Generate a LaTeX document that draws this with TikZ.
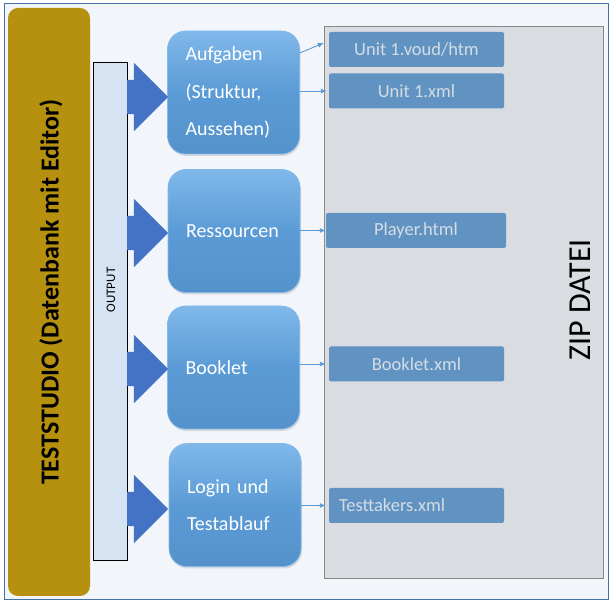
\documentclass[tikz,border=0pt]{standalone}
\usepackage{fontspec}
\setmainfont{Carlito}
\usepackage{xcolor}
\usetikzlibrary{shapes.arrows,arrows.meta,shadows}

\definecolor{rahmenblau}{HTML}{4472A8}
\definecolor{hintergrund}{HTML}{F2F6FB}
\definecolor{goldbraun}{HTML}{B69110}
\definecolor{ausgabeblau}{HTML}{D5E3F3}
\definecolor{pfeilblau}{HTML}{4472C4}
\definecolor{boxblau}{HTML}{5B9BD5}
\definecolor{boxhell}{HTML}{80B8EA}
\definecolor{boxdunkel}{HTML}{5592CC}
\definecolor{dateiblau}{HTML}{6193C2}
\definecolor{dateitext}{HTML}{D4DCE4}
\definecolor{zipgrau}{HTML}{D9DCE1}
\definecolor{ziprand}{HTML}{888888}

\begin{document}
\begin{tikzpicture}[x=1pt,y=-1pt]
          \tikzset{
            Gold/.style = { rectangle, rounded corners=10pt, fill=goldbraun,
              minimum width=82pt, minimum height=588pt, inner sep=0pt },
            Ausgabe/.style = { rectangle, draw=black, line width=0.8pt,
              fill=ausgabeblau, minimum width=34pt, minimum height=498pt,
              inner sep=0pt },
            Pfeil/.style = { single arrow, fill=pfeilblau, anchor=tail,
              minimum height=41pt, inner xsep=0pt, inner ysep=17pt,
              single arrow head extend=17pt, single arrow tip angle=90 },
            Baustein/.style = { rectangle, rounded corners=18pt,
              draw=boxhell, line width=0.6pt,
              top color=boxhell, bottom color=boxdunkel, middle color=boxblau,
              drop shadow={opacity=0.25, shadow xshift=1pt, shadow yshift=-2pt},
              text=white, align=left, text width=96pt, inner xsep=18pt,
              minimum height=123pt, font=\fontsize{20}{37.5}\selectfont },
            Datei/.style = { rectangle, rounded corners=2pt, fill=dateiblau,
              text=dateitext, minimum width=175pt, minimum height=35pt,
              font=\fontsize{18.5}{20}\selectfont },
            Zip/.style = { rectangle, draw=ziprand, line width=0.8pt,
              fill=zipgrau, minimum width=279pt, minimum height=552pt },
            Link/.style = { draw=boxblau, line width=0.9pt,
              -{Latex[length=6pt,width=5pt]} } }

          \useasboundingbox (0,0) rectangle (614,609);
          \draw[draw=rahmenblau, fill=hintergrund, line width=1pt] (4,4) rectangle (608,600);

          % linke Seite
          \node[Gold] (TESTSTUDIO) at (49,302) {};
          \node[rotate=90, font=\fontsize{26}{30}\selectfont\bfseries] (TITEL) at (51,292) {TESTSTUDIO (Datenbank mit Editor)};
          \node[Ausgabe] (OUTPUT) at (110,311) {};
          \node[rotate=90, font=\fontsize{13}{14}\selectfont] (OUTPUTTEXT) at (111,290) {OUTPUT};

          % Zip
          \node[Zip] (ZIP) at (463.5,302) {};
          \node[rotate=90, font=\fontsize{32}{36}\selectfont] (ZIPTEXT) at (580,300) {ZIP DATEI};

          % Bausteine
          \node[Baustein] (AUFGABEN) at (233.5,92.5) {Aufgaben\\(Struktur,\\Aussehen)};
          \node[Baustein] (RESSOURCEN) at (234,231) {Ressourcen};
          \node[Baustein] (BOOKLET) at (233.5,367.5) {Booklet};
          \node[Baustein] (LOGIN) at (235,505) {Login und\\Testablauf};

          \node[Pfeil] (P1) at (127,97) {};
          \node[Pfeil] (P2) at (127,233) {};
          \node[Pfeil] (P3) at (127,369) {};
          \node[Pfeil] (P4) at (127,509) {};

          % Dateien
          \node[Datei] (UNITHTM) at (416.5,49.5) {Unit 1.voud/htm};
          \node[Datei] (UNITXML) at (416.5,91) {Unit 1.xml};
          \node[Datei, minimum width=180pt] (PLAYER) at (416,230.5) {Player.html};
          \node[Datei] (BOOKLETXML) at (416.5,364) {Booklet.xml};
          \node[Datei, text width=155pt, inner xsep=10pt, align=left] (TESTTAKERS) at (416.5,505.5) {Testtakers.xml};

          \draw[Link] ([yshift=39.5pt]AUFGABEN.east) -- ([xshift=-5pt,yshift=6.5pt]UNITHTM.west);
          \draw[Link] (AUFGABEN.east |- UNITXML.west) -- ([xshift=-2pt]UNITXML.west);
          \draw[Link] (RESSOURCEN.east |- PLAYER.west) -- (PLAYER.west);
          \draw[Link] (BOOKLET.east |- BOOKLETXML.west) -- ([xshift=-3pt]BOOKLETXML.west);
          \draw[Link] (LOGIN.east |- TESTTAKERS.west) -- ([xshift=-3pt]TESTTAKERS.west);
        \end{tikzpicture}
\end{document}
